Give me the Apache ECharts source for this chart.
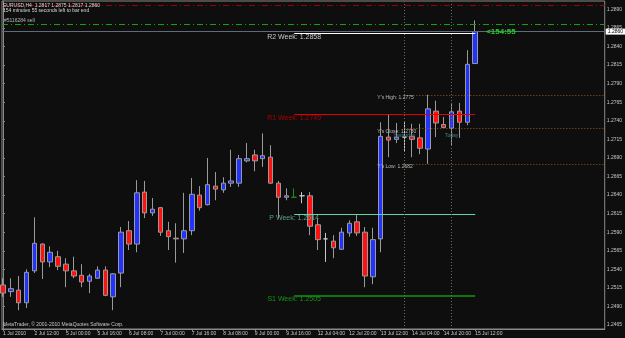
<!DOCTYPE html>
<html><head><meta charset="utf-8">
<script src="https://cdn.jsdelivr.net/npm/echarts@6/dist/echarts.min.js"></script>
<style>html,body{margin:0;padding:0;background:#0e0e0e}#c{width:625px;height:338px}</style>
</head><body><div id="c"></div>
<script>
// ---- data ----
const times = ["1 Jul 20:00","2 Jul 00:00","2 Jul 04:00","2 Jul 08:00","2 Jul 12:00","2 Jul 16:00","2 Jul 20:00","4 Jul 20:00",
"5 Jul 00:00","5 Jul 04:00","5 Jul 08:00","5 Jul 12:00","5 Jul 16:00","5 Jul 20:00","6 Jul 00:00","6 Jul 04:00",
"6 Jul 08:00","6 Jul 12:00","6 Jul 16:00","6 Jul 20:00","7 Jul 00:00","7 Jul 04:00","7 Jul 08:00","7 Jul 12:00",
"7 Jul 16:00","7 Jul 20:00","8 Jul 00:00","8 Jul 04:00","8 Jul 08:00","8 Jul 12:00","8 Jul 16:00","8 Jul 20:00",
"9 Jul 00:00","9 Jul 04:00","9 Jul 08:00","9 Jul 12:00","9 Jul 16:00","9 Jul 20:00","11 Jul 20:00","12 Jul 00:00",
"12 Jul 04:00","12 Jul 08:00","12 Jul 12:00","12 Jul 16:00","12 Jul 20:00","13 Jul 00:00","13 Jul 04:00","13 Jul 08:00",
"13 Jul 12:00","13 Jul 16:00","13 Jul 20:00","14 Jul 00:00","14 Jul 04:00","14 Jul 08:00","14 Jul 12:00","14 Jul 16:00",
"14 Jul 20:00","15 Jul 00:00","15 Jul 04:00","15 Jul 08:00","15 Jul 12:00"];
const opens = [1.2519,1.2510,1.2512,1.2495,1.2538,1.2574,1.2550,1.2557,1.2547,1.2538,1.2532,1.2524,1.2528,1.2539,1.2503,1.2535,
1.2592,1.2574,1.2644,1.2616,1.2623,1.2592,1.2582,1.2581,1.2592,1.2640,1.2627,1.2652,1.2647,1.2656,1.2656,1.2686,
1.2694,1.2689,1.2691,1.2656,1.2637,1.2637,1.2639,1.2639,1.2600,1.2581,1.2578,1.2567,1.2589,1.2604,1.2590,1.2530,
1.2581,1.2718,1.2715,1.2718,1.2719,1.2717,1.2702,1.2753,1.2735,1.2730,1.2753,1.2738,1.2817];
const closes = [1.2508,1.2514,1.2495,1.2536,1.2575,1.2550,1.2563,1.2544,1.2538,1.2531,1.2523,1.2531,1.2539,1.2505,1.2534,1.2590,
1.2574,1.2643,1.2616,1.2621,1.2590,1.2584,1.2581,1.2592,1.2641,1.2623,1.2654,1.2648,1.2656,1.2659,1.2689,1.2689,
1.2686,1.2693,1.2656,1.2637,1.2639,1.2637,1.2639,1.2598,1.2580,1.2581,1.2569,1.2590,1.2602,1.2589,1.2531,1.2580,
1.2719,1.2714,1.2718,1.2718,1.2715,1.2703,1.2756,1.2737,1.2731,1.2752,1.2738,1.2816,1.2860];
const highs = [1.2528,1.2528,1.2531,1.2540,1.2610,1.2575,1.2571,1.2565,1.2555,1.2557,1.2547,1.2534,1.2544,1.2544,1.2535,1.2597,
1.2605,1.2660,1.2659,1.2636,1.2624,1.2604,1.2602,1.2643,1.2663,1.2652,1.2690,1.2671,1.2664,1.2701,1.2694,1.2710,
1.2701,1.2723,1.2707,1.2659,1.2649,1.2649,1.2644,1.2644,1.2609,1.2589,1.2586,1.2596,1.2606,1.2613,1.2597,1.2596,
1.2738,1.2748,1.2737,1.2738,1.2736,1.2736,1.2775,1.2767,1.2745,1.2764,1.2764,1.2835,1.2875];
const lows = [1.2503,1.2503,1.2485,1.2488,1.2535,1.2527,1.2543,1.2539,1.2516,1.2528,1.2516,1.2508,1.2527,1.2504,1.2485,1.2516,
1.2566,1.2563,1.2609,1.2612,1.2585,1.2566,1.2549,1.2562,1.2586,1.2619,1.2626,1.2633,1.2643,1.2651,1.2651,1.2684,
1.2672,1.2678,1.2655,1.2609,1.2633,1.2636,1.2629,1.2586,1.2566,1.2550,1.2555,1.2566,1.2584,1.2585,1.2516,1.2520,
1.2563,1.2691,1.2710,1.2698,1.2691,1.2695,1.2682,1.2718,1.2731,1.2706,1.2717,1.2734,1.2817];

const timeTickIndex = [0,4,8,12,16,20,24,28,32,36,40,44,48,52,56,60];
const timeTickLabels = ["1 Jul 2010","2 Jul 12:00","5 Jul 00:00","5 Jul 16:00","6 Jul 08:00","7 Jul 00:00","7 Jul 16:00",
"8 Jul 08:00","9 Jul 00:00","9 Jul 16:00","12 Jul 04:00","12 Jul 20:00","13 Jul 12:00","14 Jul 04:00","14 Jul 20:00","15 Jul 12:00"];
const priceTicks = [1.2465,1.2490,1.2515,1.2540,1.2565,1.2590,1.2615,1.2640,1.2665,1.2690,1.2715,1.2740,1.2765,1.2790,1.2815,1.2840,1.2865,1.2890];

const pivotNames = ["R2 Week","R1 Week","P Week","S1 Week"];
const pivotValues = [1.2858,1.2749,1.2614,1.2505];
const pivotStart = 37, pivotEnd = 60;
const prevDayNames = ["Y's High","Y's Close","Y's Low"];
const prevDayValues = [1.2775,1.2730,1.2682];
const prevDayStart = 51;
const daySeparators = [51,57];
const daySeparatorNames = ["Yesterday","Today"];
const orderTicket = "#5116284 sell";
const orderPrice = 1.2870;
const upperLevel = 1.2895;
const bidPrice = 1.2860;
const symbolInfo = "EURUSD,H4  1.2817 1.2875 1.2817 1.2860";
const timerInfo = "154 minutes 55 seconds left to bar end";
const timerShort = "<154:55";
const dojiGreen = [37];

// ---- chart ----
const X_MIN = -0.127, X_MAX = 76.46;
const FONT = 'Liberation Sans';
const candleData = times.map((t, i) => {
  const item = { value: [i, opens[i], closes[i], lows[i], highs[i]] };
  if (dojiGreen.includes(i)) {
    const g = '#1f8a1f';
    item.itemStyle = { color: g, color0: g, borderColor: g, borderColor0: g, borderColorDoji: g };
  }
  return item;
});

const pivotStyles = [
  { line: '#ffffff', text: '#c8c8c8', width: 1 },
  { line: '#e00000', text: '#a80000', width: 1 },
  { line: '#5fd8a8', text: '#5a9e8c', width: 1 },
  { line: '#0c9a0c', text: '#139313', width: 1.6 }
];

const fullLine = (v, style, label) => {
  const start = { coord: [X_MIN, v], lineStyle: style };
  if (label) start.label = label;
  return [start, { coord: [X_MAX, v] }];
};
const markLines = [
  fullLine(upperLevel, { color: '#a00000', type: [6, 3, 1, 3], width: 1 }),
  fullLine(orderPrice, { color: '#14a014', type: [6, 3, 1, 3], width: 1 }),
  fullLine(bidPrice, { color: '#5f6b75', type: 'solid', width: 1 },
    { show: true, position: 'end', formatter: bidPrice.toFixed(4), backgroundColor: '#ffffff', color: '#000',
      fontSize: 5, fontFamily: FONT, padding: [1, 2, 0, 2], distance: 1 })
];
pivotValues.forEach((v, k) => {
  markLines.push([{ coord: [pivotStart, v], lineStyle: { color: pivotStyles[k].line, width: pivotStyles[k].width, type: 'solid' } },
                  { coord: [pivotEnd, v] }]);
});
prevDayValues.forEach(v => {
  markLines.push([{ coord: [prevDayStart, v], lineStyle: { color: '#9a5a1c', width: 1, type: [1, 2] } },
                  { coord: [X_MAX, v] }]);
});
daySeparators.forEach(ix => {
  markLines.push({ xAxis: ix, lineStyle: { color: '#6a6a6a', width: 1, type: [1, 2] } });
});

const tinyLabel = (text, color, offset, align, size) => ({
  show: true, formatter: text, color: color, offset: offset, align: align || 'center',
  fontSize: size || 5, fontFamily: FONT, position: 'inside'
});
const markPoints = [];
pivotValues.forEach((v, k) => {
  markPoints.push({ coord: [pivotStart, v], label: tinyLabel(pivotNames[k] + ': ' + v.toFixed(4), pivotStyles[k].text, [0, 4], 'center', 7) });
});
prevDayValues.forEach((v, k) => {
  markPoints.push({ coord: [prevDayStart, v], label: tinyLabel(prevDayNames[k] + ': ' + v.toFixed(4), '#b8b8b8', [-27, 3], 'left', 5) });
});
daySeparators.forEach((ix, k) => {
  markPoints.push({ coord: [ix, prevDayValues[1]], label: tinyLabel(daySeparatorNames[k], '#3f8585', [0, 7], 'center', 5) });
});
markPoints.push({ coord: [pivotEnd, bidPrice], label: Object.assign(tinyLabel(timerShort, '#22cc22', [11, 0], 'left', 8), { fontWeight: 'bold' }) });

const chart = echarts.init(document.getElementById('c'), null, { renderer: 'canvas' });
chart.setOption({
  animation: false,
  backgroundColor: '#0e0e0e',
  textStyle: { fontFamily: FONT },
  grid: { left: 1, right: 19, top: 1, bottom: 9, show: true, borderColor: '#8a8a8a', borderWidth: 1, backgroundColor: 'transparent' },
  xAxis: {
    type: 'value', min: X_MIN, max: X_MAX,
    axisLine: { show: true, lineStyle: { color: '#8a8a8a' } },
    axisTick: { show: true, length: 2, lineStyle: { color: '#8a8a8a' }, customValues: timeTickIndex },
    axisLabel: { show: true, customValues: timeTickIndex, color: '#c8c8c8', fontSize: 5, fontFamily: FONT, margin: 2, align: 'left',
      formatter: v => { const k = timeTickIndex.indexOf(Math.round(v)); return k >= 0 ? timeTickLabels[k] : ''; } },
    splitLine: { show: false }
  },
  yAxis: {
    type: 'value', position: 'right', min: 1.24597, max: 1.29012, scale: true,
    axisLine: { show: true, lineStyle: { color: '#8a8a8a' } },
    axisTick: { show: true, length: 2, lineStyle: { color: '#8a8a8a' }, customValues: priceTicks },
    axisLabel: { show: true, customValues: priceTicks, color: '#c8c8c8', fontSize: 5, fontFamily: FONT, margin: 2,
      formatter: v => v.toFixed(4) },
    splitLine: { show: false }
  },
  graphic: [
    { type: 'text', left: 3, top: 3, z: 10, style: { text: symbolInfo, fill: '#d8d8d8', fontSize: 5, fontFamily: FONT } },
    { type: 'text', left: 3, top: 8, z: 10, style: { text: timerInfo, fill: '#d8d8d8', fontSize: 5, fontFamily: FONT } },
    { type: 'text', left: 4, top: 18.5, z: 10, style: { text: orderTicket, fill: '#b8b8b8', fontSize: 5, fontFamily: FONT } },
    { type: 'text', left: 3, top: 322.5, z: 10, style: { text: 'MetaTrader, © 2001-2010 MetaQuotes Software Corp.', fill: '#c8c8c8', fontSize: 5, fontFamily: FONT } }
  ],
  series: [{
    type: 'candlestick',
    data: candleData,
    barWidth: 5,
    itemStyle: { color: '#2233ff', color0: '#ff1111', borderColor: '#9a9a9a', borderColor0: '#9a9a9a', borderColorDoji: '#c8c8c8', borderWidth: 1 },
    markLine: { silent: true, symbol: ['none', 'none'], animation: false, label: { show: false }, data: markLines },
    markPoint: { silent: true, symbol: 'rect', symbolSize: 1, itemStyle: { color: 'rgba(0,0,0,0)' }, animation: false, data: markPoints }
  }]
});
</script></body></html>
